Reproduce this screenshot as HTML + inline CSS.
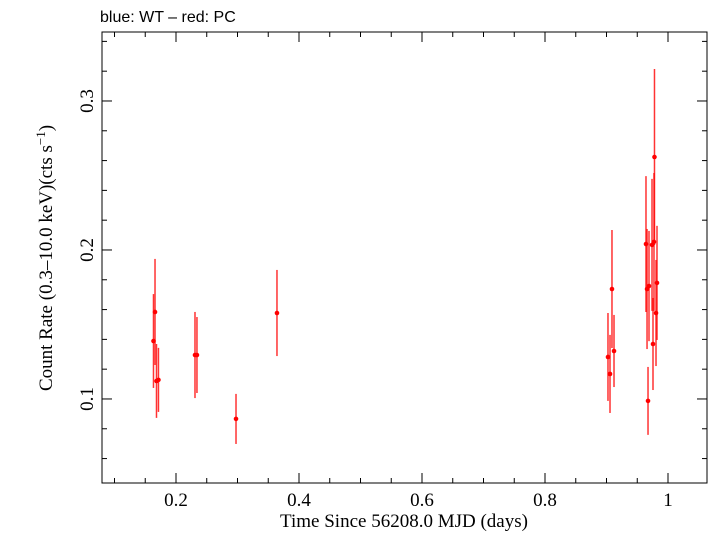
<!DOCTYPE html>
<html><head><meta charset="utf-8"><style>
body{margin:0;background:#fff}
svg text{font-family:"Liberation Serif",serif;fill:#000}
</style></head><body>
<svg id="c" width="709" height="532" xmlns="http://www.w3.org/2000/svg">
<text x="100" y="22" style="font-family:'Liberation Sans',sans-serif;font-size:16px">blue: WT – red: PC</text>
<rect x="102" y="32" width="605" height="451" fill="none" stroke="#000" stroke-width="1"/>
<g id="axes"></g><g id="marks"></g>
<text x="404" y="527" text-anchor="middle" font-size="19">Time Since 56208.0 MJD (days)</text>
<text transform="translate(52,258) rotate(-90)" text-anchor="middle" font-size="19">Count Rate (0.3–10.0 keV)(cts s<tspan dy="-7" font-size="13">−1</tspan><tspan dy="7">)</tspan></text>
</svg>
<script>
const times=[0.1634,0.1659,0.1683,0.1715,0.2309,0.2341,0.2976,0.3642,0.9024,0.9057,0.9089,0.9122,0.9642,0.9659,0.9675,0.9691,0.9740,0.9756,0.9772,0.9780,0.9805,0.9821];
const rates=[0.1389,0.1584,0.1121,0.1128,0.1295,0.1295,0.0866,0.1577,0.1282,0.1168,0.1738,0.1322,0.2040,0.1738,0.0987,0.1758,0.2034,0.1369,0.2054,0.2624,0.1577,0.1779];
const errs=[0.0315,0.0356,0.0248,0.0215,0.0289,0.0255,0.0168,0.0289,0.0295,0.0262,0.0396,0.0242,0.0456,0.0403,0.0228,0.037,0.0443,0.0309,0.0463,0.0591,0.0356,0.0383];
const xTicks=[0.2,0.4,0.6,0.8,1];
const xTickLabels=["0.2","0.4","0.6","0.8","1"];
const yTicks=[0.1,0.2,0.3];
const yTickLabels=["0.1","0.2","0.3"];
const X0=102,X1=707,Y0=483,Y1=32,xmin=0.0797,xmax=1.0634,ymin=0.0436,ymax=0.3463;
const sx=v=>X0+(v-xmin)/(xmax-xmin)*(X1-X0);
const sy=v=>Y0-(v-ymin)/(ymax-ymin)*(Y0-Y1);
const NS="http://www.w3.org/2000/svg";
const ax=document.getElementById('axes'),mk=document.getElementById('marks');
function ln(p,x1,y1,x2,y2,c,w){const l=document.createElementNS(NS,'line');l.setAttribute('x1',x1);l.setAttribute('y1',y1);l.setAttribute('x2',x2);l.setAttribute('y2',y2);l.setAttribute('stroke',c);l.setAttribute('stroke-width',w);p.appendChild(l);return l;}
function tx(x,y,s,a){const t=document.createElementNS(NS,'text');t.setAttribute('x',x);t.setAttribute('y',y);t.setAttribute('font-size','19');t.setAttribute('text-anchor',a);t.textContent=s;ax.appendChild(t);return t;}
for(let v=0.1;v<=1.05;v+=0.05){const x=sx(v);const major=Math.abs(v*5-Math.round(v*5))<1e-6;const L=major?10:5;
const a=ln(ax,x,Y0,x,Y0-L,'#000',1);
const b=ln(ax,x,Y1,x,Y1+L,'#000',1);}
for(let v=0.06;v<=0.34;v+=0.02){const y=sy(v);const major=Math.abs(v*10-Math.round(v*10))<1e-6;const L=major?10:5;
const a=ln(ax,X0,y,X0+L,y,'#000',1);
const b=ln(ax,X1,y,X1-L,y,'#000',1);}
xTicks.forEach((v,i)=>{const t=tx(sx(v),506,xTickLabels[i],'middle');

});
yTicks.forEach((v,i)=>{const t=tx(sy(v),0,yTickLabels[i],'middle');t.setAttribute('x',0);t.setAttribute('y',0);t.setAttribute('transform','translate(93,'+sy(v)+') rotate(-90)');

});
times.forEach((t,i)=>{const x=sx(t);
const e=ln(mk,x,sy(rates[i]-errs[i]),x,sy(rates[i]+errs[i]),'#ff0000',1.5);e.setAttribute('stroke-opacity','0.8');


const c=document.createElementNS(NS,'circle');c.setAttribute('cx',x);c.setAttribute('cy',sy(rates[i]));c.setAttribute('r',2.3);c.setAttribute('fill','#ff0000');


mk.appendChild(c);});
</script>
</body></html>
